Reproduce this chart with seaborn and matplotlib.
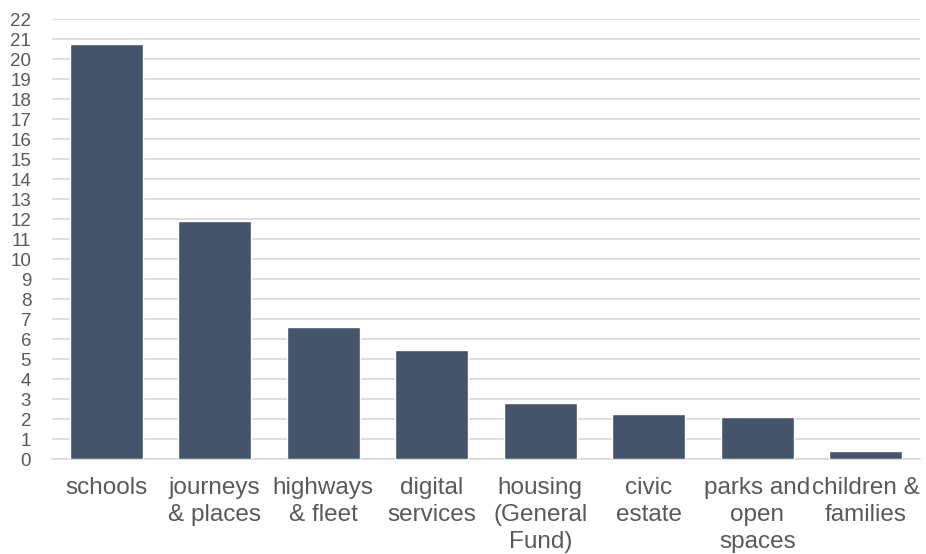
import pandas as pd
import numpy as np
import matplotlib
matplotlib.use('Agg')
import matplotlib.pyplot as plt
import seaborn as sns

categories = ['schools', 'journeys\n& places', 'highways\n& fleet', 'digital\nservices',
              'housing\n(General\nFund)', 'civic\nestate', 'parks and\nopen\nspaces',
              'children &\nfamilies']
values = [20.75, 11.9, 6.6, 5.45, 2.8, 2.25, 2.1, 0.4]
y_ticks = list(range(0, 23))

df = pd.DataFrame({'category': categories, 'value': values})

sns.set_style('white')
plt.rcParams['font.family'] = ['Liberation Sans', 'DejaVu Sans']

fig = plt.figure(figsize=(9.26, 5.54), dpi=100)
ax = fig.add_axes([52 / 926, 1 - 459 / 554, (920 - 52) / 926, (459 - 19) / 554])

sns.barplot(data=df, x='category', y='value', color='#44546A', saturation=1,
            width=0.67, ax=ax, zorder=3)

ax.set_ylim(0, 22)
ax.set_xlim(-0.5, len(categories) - 0.5)
ax.set_yticks(y_ticks)
ax.yaxis.grid(True, color='#D9D9D9', linewidth=1.2, zorder=0)
ax.set_axisbelow(True)
for s in ['top', 'right', 'left']:
    ax.spines[s].set_visible(False)
ax.spines['bottom'].set_color('#D9D9D9')
ax.spines['bottom'].set_linewidth(1.2)
ax.tick_params(axis='y', length=0, labelsize=13.5, labelcolor='#595959', pad=15)
ax.tick_params(axis='x', length=0, labelsize=17.5, labelcolor='#595959', pad=13)
for lbl in ax.get_xticklabels():
    lbl.set_linespacing(1.3)
ax.set_xlabel('')
ax.set_ylabel('')

fig.savefig('out.png', dpi=100)
